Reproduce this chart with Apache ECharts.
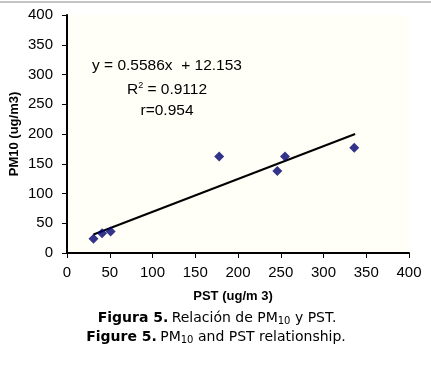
<!DOCTYPE html>
<html>
<head>
<meta charset="utf-8">
<script src="https://cdn.jsdelivr.net/npm/echarts@6/dist/echarts.min.js"></script>
<style>
html, body { margin: 0; padding: 0; background: #fff; }
#chart { width: 431px; height: 377px; }
</style>
</head>
<body>
<div id="chart"></div>
<script>
// PST (x) vs PM10 (y)
var pstValues = [31, 41, 51, 178, 246, 255, 336];
var pm10Values = [24, 33, 36, 162, 138, 162, 177];
// ends of the fitted line
var trendX = [31, 337];
var trendY = [31, 200];
var tickLabels = [0, 50, 100, 150, 200, 250, 300, 350, 400];

var points = pstValues.map(function (x, i) { return [x, pm10Values[i]]; });
var trend = trendX.map(function (x, i) { return [x, trendY[i]]; });

var axisText = { color: '#000', fontSize: 15, fontFamily: 'Liberation Sans' };
var nameText = { color: '#000', fontSize: 13, fontWeight: 'bold', fontFamily: 'Liberation Sans' };

var option = {
    animation: false,
    grid: {
        left: 67,
        top: 15,
        right: 22,
        bottom: 124,
        outerBoundsMode: 'none',
        show: true,
        backgroundColor: '#fffff8',
        borderWidth: 0
    },
    xAxis: {
        type: 'value',
        min: tickLabels[0],
        max: tickLabels[tickLabels.length - 1],
        interval: 50,
        name: 'PST (ug/m 3)',
        nameLocation: 'middle',
        nameGap: 37,
        nameTextStyle: Object.assign({ padding: [0, 10, 0, 0] }, nameText),
        axisLine: { lineStyle: { color: '#000', width: 2 } },
        axisTick: { show: true, length: 5, lineStyle: { color: '#000', width: 1 } },
        axisLabel: Object.assign({ margin: 12 }, axisText),
        splitLine: { show: false }
    },
    yAxis: {
        type: 'value',
        min: 0,
        max: 400,
        interval: 50,
        name: 'PM10 (ug/m3)',
        nameLocation: 'middle',
        nameGap: 46,
        nameMoveOverlap: false,
        nameTextStyle: nameText,
        axisLine: { show: true, lineStyle: { color: '#000', width: 2 } },
        axisTick: { show: true, length: 5, lineStyle: { color: '#000', width: 1 } },
        axisLabel: Object.assign({ margin: 14 }, axisText),
        splitLine: { show: false }
    },
    series: [{
        type: 'line',
        data: trend,
        symbol: 'none',
        lineStyle: { color: '#000', width: 2 },
        z: 2
    }, {
        type: 'scatter',
        data: points,
        symbol: 'diamond',
        symbolSize: 10,
        itemStyle: { color: '#00006e' },
        z: 3
    }],
    graphic: [{
        type: 'line',
        shape: { x1: 0, y1: 2, x2: 431, y2: 2 },
        style: { stroke: '#8a8a8a', lineWidth: 1 }
    }, {
        type: 'text',
        x: 167, y: 66,
        style: { text: 'y = 0.5586x  + 12.153', fill: '#000', font: '15.5px "Liberation Sans"', align: 'center', verticalAlign: 'middle' }
    }, {
        type: 'text',
        x: 167, y: 90,
        style: {
            text: '{a|R}{s|2}{a| = 0.9112}',
            fill: '#000', align: 'center', verticalAlign: 'middle',
            rich: {
                a: { fontSize: 15.5, fontFamily: 'Liberation Sans', fill: '#000' },
                s: { fontSize: 9, fontFamily: 'Liberation Sans', fill: '#000', verticalAlign: 'top', padding: [0, 0, 8, 0] }
            }
        }
    }, {
        type: 'text',
        x: 167, y: 111,
        style: { text: 'r=0.954', fill: '#000', font: '15.5px "Liberation Sans"', align: 'center', verticalAlign: 'middle' }
    }, {
        type: 'text',
        x: 217, y: 318,
        style: {
            text: '{b|Figura 5.} {n|Relación de PM}{s|10}{n| y PST.}',
            align: 'center', verticalAlign: 'middle',
            rich: {
                b: { fontSize: 14, fontWeight: 'bold', fontFamily: 'DejaVu Sans', fill: '#000' },
                n: { fontSize: 14, fontFamily: 'DejaVu Sans', fill: '#000' },
                s: { fontSize: 10, fontFamily: 'DejaVu Sans', fill: '#000', padding: [6, 0, 0, 0] }
            }
        }
    }, {
        type: 'text',
        x: 216, y: 337,
        style: {
            text: '{b|Figure 5.} {n|PM}{s|10}{n| and PST relationship.}',
            align: 'center', verticalAlign: 'middle',
            rich: {
                b: { fontSize: 14, fontWeight: 'bold', fontFamily: 'DejaVu Sans', fill: '#000' },
                n: { fontSize: 14, fontFamily: 'DejaVu Sans', fill: '#000' },
                s: { fontSize: 10, fontFamily: 'DejaVu Sans', fill: '#000', padding: [6, 0, 0, 0] }
            }
        }
    }]
};

var myChart = echarts.init(document.getElementById('chart'));
myChart.setOption(option);
</script>
</body>
</html>
